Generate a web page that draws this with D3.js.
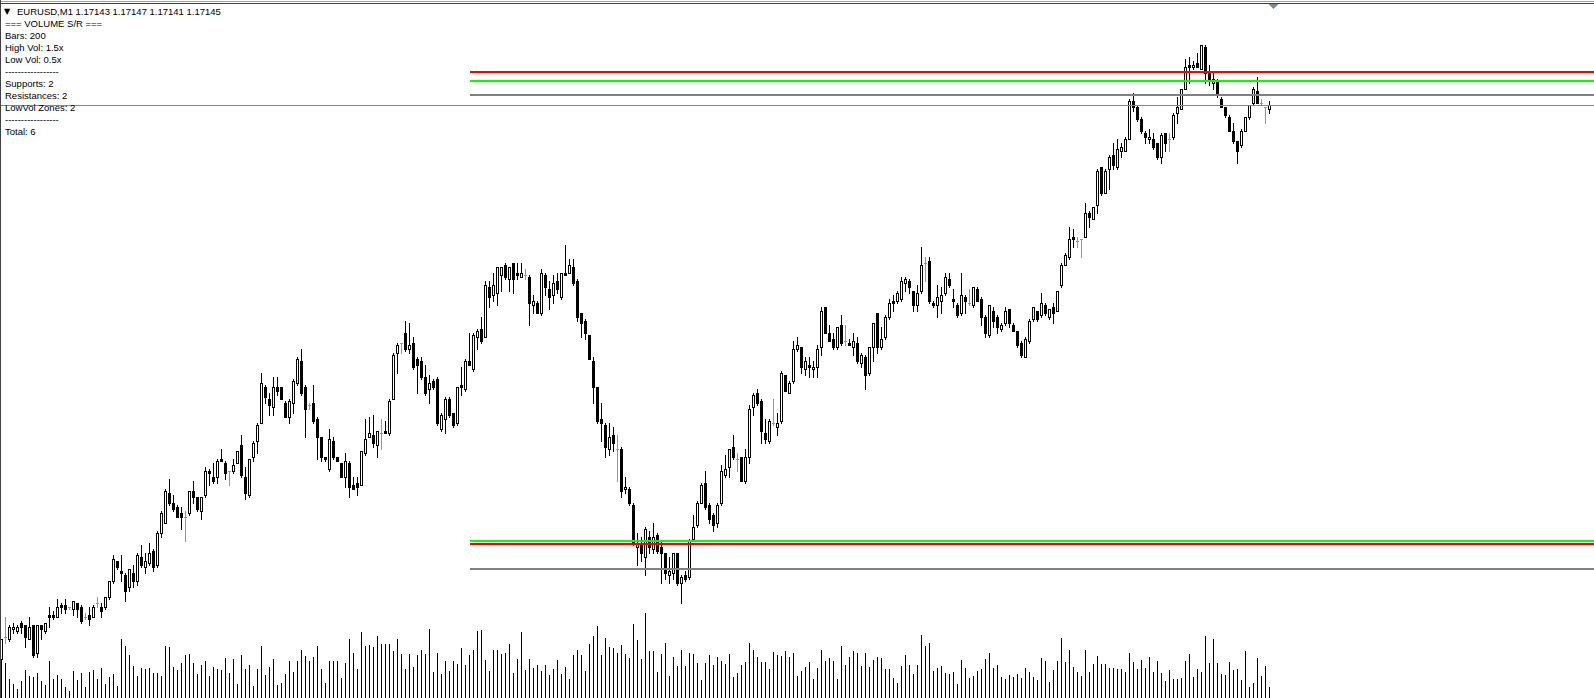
<!DOCTYPE html>
<html><head><meta charset="utf-8">
<script src="https://cdn.jsdelivr.net/npm/d3@7"></script>
<style>html,body{margin:0;padding:0;background:#fff;overflow:hidden}svg{display:block}</style>
</head><body>
<svg id="c" width="1594" height="698"></svg>
<script>
// ---------------- data ----------------
const symbol = "EURUSD,M1";
const PRICE_BASE = 1.16822, POINT = 0.00001;   // bar prices stored as points above PRICE_BASE
const open = [46,57,56,61,60,64,63,56,63,49,63,60,68,68,67,73,73,72,71,74,72,67,68,67,74,72,72,77,85,95,90,88,82,89,85,97,92,94,100,93,109,114,129,124,122,119,117,119,130,127,120,128,140,137,137,146,144,140,140,144,153,137,128,147,155,164,182,176,172,182,182,174,167,174,184,195,182,173,174,166,157,147,141,155,147,144,137,144,133,134,133,149,157,158,153,159,160,159,176,199,204,209,201,204,196,195,187,181,185,186,161,166,176,169,164,183,181,195,191,207,211,207,232,228,229,238,243,236,244,239,237,238,237,223,224,219,238,231,228,235,227,239,239,242,235,219,215,208,195,182,166,163,151,158,151,151,131,131,123,102,104,97,107,101,108,102,99,88,89,99,84,88,87,106,113,124,134,123,118,114,124,138,142,152,146,147,135,147,172,179,175,159,155,164,162,165,188,179,185,201,202,191,193,191,192,202,222,209,206,202,213,205,204,202,204,194,197,189,202,219,202,207,217,225,225,226,234,235,230,223,230,244,245,224,223,225,229,236,226,223,219,227,224,223,231,226,217,208,220,217,211,214,221,213,210,204,197,205,216,220,218,223,217,222,220,233,243,247,257,255,256,257,269,266,273,292,279,291,298,292,300,300,306,325,322,316,309,306,306,304,297,309,306,307,319,321,331,343,342,344,341,352,339,334,335,326,322,317,310,305,303,310,317,324,330,324,322,321];
const high = [56,67,63,64,63,65,63,67,63,63,63,64,72,70,76,74,76,72,75,74,73,69,72,73,77,74,77,85,98,95,98,89,91,93,99,103,99,104,101,110,120,131,136,128,123,122,120,130,135,127,127,142,141,144,146,151,145,140,146,150,158,142,146,155,164,189,183,179,187,187,182,175,176,186,197,201,183,174,183,167,157,147,161,157,147,144,149,145,137,137,150,166,167,168,160,166,165,176,199,204,204,215,214,207,197,197,193,188,186,187,169,177,177,169,182,192,196,209,209,211,217,235,235,239,242,242,244,242,244,244,244,241,238,228,225,241,239,235,238,239,239,253,246,246,236,219,216,208,197,182,174,164,164,162,158,152,137,132,124,109,107,112,110,114,109,105,99,97,99,99,88,90,106,118,125,134,140,124,119,124,143,148,151,158,149,147,151,173,179,181,176,166,166,176,169,190,188,185,205,207,202,197,197,195,203,222,222,213,209,212,218,213,206,209,207,199,198,202,214,219,212,218,226,228,230,237,237,236,230,233,252,247,247,225,233,232,239,239,231,224,239,228,231,232,232,227,218,223,222,218,214,222,221,214,210,205,207,216,222,220,229,224,221,224,230,244,249,262,261,257,256,274,270,272,291,292,291,298,304,306,304,307,326,329,323,317,310,311,309,304,309,309,309,319,327,331,346,347,345,349,353,353,343,340,336,327,322,318,314,305,311,317,323,332,337,326,322,325];
const low = [45,54,55,59,59,59,52,56,47,47,56,59,62,66,67,69,69,71,68,67,64,66,63,67,72,67,71,76,84,91,85,75,80,82,83,92,89,93,90,92,107,114,123,120,117,111,105,118,124,120,116,127,133,134,134,145,136,133,139,144,137,126,127,145,149,164,174,168,168,178,176,167,164,169,183,178,157,171,164,146,145,145,140,146,145,137,132,127,131,128,133,148,157,152,147,151,159,158,176,189,199,200,199,191,179,186,178,174,181,163,160,159,167,162,163,178,180,193,190,201,204,207,222,225,223,230,236,230,229,236,237,236,213,219,219,218,228,221,224,229,226,238,239,233,215,207,206,196,174,164,155,147,148,150,135,127,129,123,103,93,95,88,99,99,99,84,86,84,86,83,74,85,86,105,112,124,121,114,110,112,123,137,137,146,140,135,134,144,168,173,154,154,154,163,158,164,180,179,184,200,189,188,187,187,187,198,209,205,201,201,203,203,203,198,194,192,181,188,195,199,201,206,216,220,224,225,230,229,220,220,229,235,224,222,217,219,228,232,222,217,218,219,223,222,225,213,207,207,212,209,210,213,212,210,202,197,197,204,215,215,217,218,216,214,220,232,243,246,252,252,247,257,262,266,269,278,279,281,291,291,297,300,306,320,315,309,304,304,301,296,294,300,300,306,314,321,331,334,341,342,341,334,333,331,327,322,317,310,304,294,302,310,316,323,324,323,314,319];
const close = [56,57,62,62,62,62,57,62,48,63,61,64,67,67,72,72,71,72,75,71,65,67,66,72,74,70,77,85,96,92,89,80,91,85,98,93,95,99,92,109,119,130,124,121,117,117,117,130,127,121,127,140,139,135,145,145,139,140,143,150,138,129,146,154,163,184,177,173,182,180,176,167,175,185,196,179,171,173,165,157,147,146,156,147,145,137,145,132,131,132,150,156,159,154,160,159,159,175,198,203,204,201,203,192,193,187,179,184,182,164,168,176,168,163,182,182,195,193,208,210,205,233,227,233,242,242,237,242,236,238,239,238,224,225,219,239,232,227,234,231,239,238,243,234,217,214,209,196,182,165,164,152,157,154,151,130,132,124,104,104,99,111,102,107,100,99,89,90,99,84,87,86,105,112,124,133,122,116,113,123,140,141,151,147,146,135,147,171,178,174,160,156,165,164,164,189,180,184,201,203,192,195,192,192,201,220,209,205,202,212,204,205,203,205,195,198,188,202,214,202,206,217,224,224,229,235,236,232,223,229,243,244,225,223,227,228,237,233,225,218,228,225,224,232,225,217,209,223,215,212,213,220,214,210,203,198,206,215,222,216,224,219,221,219,230,243,248,256,256,255,256,269,267,272,290,279,290,297,293,301,302,306,325,322,316,310,307,307,302,297,308,304,306,318,322,331,342,342,343,342,353,339,335,336,329,322,318,310,305,300,310,317,323,331,324,324,322,323];
const volume = [77,71,39,28,18,33,57,45,43,51,33,26,74,38,46,38,23,14,54,36,51,22,52,56,38,60,28,42,48,24,118,104,86,64,44,60,58,60,51,51,44,104,102,62,56,70,86,88,70,48,66,74,44,62,58,56,80,50,78,28,86,58,66,24,58,104,46,62,78,26,30,48,74,52,74,96,84,74,82,104,58,30,74,74,74,40,70,118,90,58,132,104,106,102,124,108,108,108,94,118,88,58,88,62,86,96,88,138,52,90,48,74,54,74,68,100,66,86,96,134,136,76,54,96,96,88,90,108,50,78,132,56,78,60,66,54,66,46,58,76,48,62,38,86,96,86,54,108,124,144,86,120,102,100,90,106,88,80,148,116,79,171,94,94,52,88,110,44,82,64,96,64,90,88,70,36,70,86,66,82,74,68,88,42,50,66,72,110,96,82,72,72,58,92,86,84,94,82,90,44,54,62,72,38,60,96,74,80,74,38,104,66,82,94,90,64,90,62,76,82,80,58,58,40,30,64,86,66,48,66,126,104,110,54,60,64,50,48,52,28,76,60,40,44,54,58,78,90,60,66,42,38,46,42,48,40,60,52,42,36,80,74,32,56,74,120,72,96,62,52,44,96,52,68,84,68,68,60,60,58,58,52,90,72,58,76,60,82,52,74,50,34,56,38,38,40,74,88,42,58,52,124,70,118,70,48,46,72,56,58,36,94,22,30,80,44,64,22];
const resistances = [1.171615, 1.169255];
const supports = [1.17157, 1.16927];
const lowVolZones = [1.1715, 1.16913];
const levelStartBar = 117;
const infoLines = ["=== VOLUME S/R ===", "Bars: 200", "High Vol: 1.5x", "Low Vol: 0.5x", "-----------------",
  "Supports: 2", "Resistances: 2", "LowVol Zones: 2", "-----------------", "Total: 6"];

// ---------------- layout ----------------
const W = 1594, H = 698;
const svg = d3.select("#c");
const n = open.length;
const price = p => PRICE_BASE + p * POINT;
const x = d3.scaleLinear().domain([0, n - 1]).range([1.5, 1269.5]);
const y = d3.scaleLinear().domain([1.168485, 1.171975]).range([H, 0]);
const Y = v => Math.round(y(v));
const yv = d3.scaleLinear().domain([0, 200]).range([H, H - 100]);

const bars = d3.range(n).map(i => ({
  i, o: price(open[i]), h: price(high[i]), l: price(low[i]), c: price(close[i]), v: volume[i]
}));

// volumes
svg.append("g").attr("shape-rendering", "crispEdges")
  .selectAll("rect").data(bars).join("rect")
  .attr("x", d => x(d.i) - 0.5).attr("width", 1)
  .attr("y", d => Math.round(yv(d.v))).attr("height", d => H - Math.round(yv(d.v)))
  .attr("fill", "#000");

// candles
const cg = svg.append("g").attr("shape-rendering", "crispEdges");
const candle = cg.selectAll("g").data(bars).join("g");
candle.append("line")
  .attr("x1", d => x(d.i)).attr("x2", d => x(d.i))
  .attr("y1", d => Y(d.h)).attr("y2", d => Y(d.l) + 1)
  .attr("stroke", d => Y(d.o) === Y(d.c) ? "#00ff00" : "#000").attr("stroke-width", 1);
candle.filter(d => Y(d.c) < Y(d.o)).append("rect")
  .attr("x", d => x(d.i) - 1).attr("width", 2)
  .attr("y", d => Y(d.c) + 0.5).attr("height", d => Y(d.o) - Y(d.c))
  .attr("fill", "#fff").attr("stroke", "#000").attr("stroke-width", 1);
candle.filter(d => Y(d.c) > Y(d.o)).append("rect")
  .attr("x", d => x(d.i) - 1.5).attr("width", 3)
  .attr("y", d => Y(d.o)).attr("height", d => Y(d.c) - Y(d.o) + 1)
  .attr("fill", "#000");
candle.filter(d => Y(d.c) === Y(d.o)).append("line")
  .attr("x1", d => x(d.i) - 1.5).attr("x2", d => x(d.i) + 1.5)
  .attr("y1", d => Y(d.o) + 0.5).attr("y2", d => Y(d.o) + 0.5)
  .attr("stroke", "#00ff00").attr("stroke-width", 1);

// S/R levels
const levels = [
  ...lowVolZones.map(p => ({ p, col: "#808080" })),
  ...supports.map(p => ({ p, col: "#00ff00" })),
  ...resistances.map(p => ({ p, col: "#ff0000" }))
];
svg.append("g").attr("shape-rendering", "crispEdges")
  .selectAll("line").data(levels).join("line")
  .attr("x1", x(levelStartBar)).attr("x2", W)
  .attr("y1", d => Y(d.p)).attr("y2", d => Y(d.p))
  .attr("stroke", d => d.col).attr("stroke-width", 2);

// bid line
const bid = bars[n - 1].c;
svg.append("line").attr("shape-rendering", "crispEdges")
  .attr("x1", 0).attr("x2", W).attr("y1", Y(bid) + 0.5).attr("y2", Y(bid) + 0.5)
  .attr("stroke", "#778899").attr("stroke-width", 1);

// frame and chart-shift marker
svg.append("line").attr("x1", 0).attr("x2", W).attr("y1", 1.5).attr("y2", 1.5).attr("stroke", "#a0a0a0");
svg.append("line").attr("x1", 0).attr("x2", W).attr("y1", 3.5).attr("y2", 3.5).attr("stroke", "#404040");
svg.append("line").attr("x1", 0.5).attr("x2", 0.5).attr("y1", 0).attr("y2", H).attr("stroke", "#404040");
const sx = x(n - 1) + 4;
svg.append("path").attr("d", `M${sx - 5},4 L${sx + 5},4 L${sx},9 Z`).attr("fill", "#778899");

// info text
const fmt = v => v.toFixed(5);
const last = bars[n - 1];
const tg = svg.append("g").attr("font-family", "'Liberation Sans', Arial, sans-serif")
  .attr("font-size", "9.5px").attr("fill", "#000").style("white-space", "pre");
tg.append("text").attr("x", 4).attr("y", 14).attr("font-size", "8px")
  .attr("font-family", "'DejaVu Sans', sans-serif").text("\u25BC");
tg.append("text").attr("x", 17).attr("y", 15)
  .text(`${symbol}  ${fmt(last.o)} ${fmt(last.h)} ${fmt(last.l)} ${fmt(last.c)}`);
tg.selectAll("text.info").data(infoLines).join("text").attr("class", "info")
  .attr("x", 5).attr("y", (d, i) => 27 + 12 * i).text(d => d);
</script>
</body></html>
